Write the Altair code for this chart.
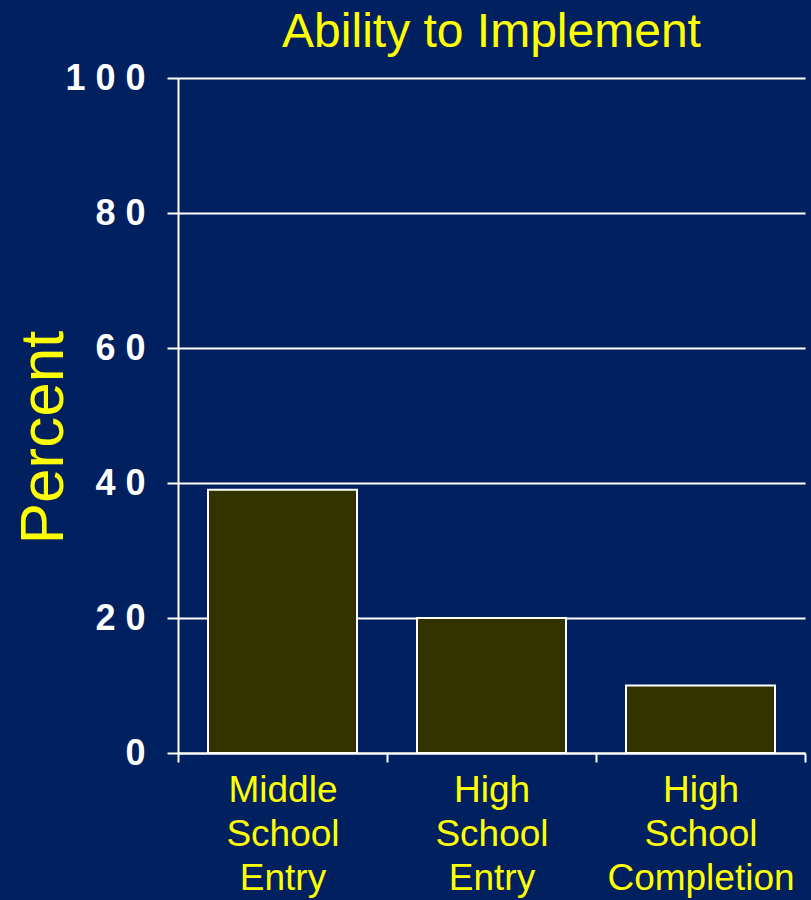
import altair as alt
import pandas as pd

categories = ["Middle School Entry", "High School Entry", "High School Completion"]
percent = [39, 20, 10]

df = pd.DataFrame({"stage": categories, "percent": percent})

BG = "#002060"
YELLOW = "#FFFF00"
BAR = "#333300"

chart = (
    alt.Chart(df)
    .mark_bar(color=BAR, stroke="white", strokeWidth=2, width={"band": 0.713})
    .encode(
        x=alt.X(
            "stage:N",
            sort=None,
            scale=alt.Scale(paddingInner=0, paddingOuter=0),
            axis=alt.Axis(
                title=None,
                labelAngle=0,
                labelExpr="split(datum.label, ' ')",
                labelFont="Liberation Sans",
                labelFontSize=37,
                labelColor=YELLOW,
                labelLineHeight=44,
                labelPadding=10,
                labelBaseline="top",
                labelLimit=0,
                tickBand="extent",
                tickColor="white",
                tickSize=9,
                tickWidth=2,
                domainColor="white",
                domainWidth=2,
                grid=False,
            ),
        ),
        y=alt.Y(
            "percent:Q",
            scale=alt.Scale(domain=[0, 100], nice=False),
            axis=alt.Axis(
                title="Percent",
                values=[0, 20, 40, 60, 80, 100],
                labelExpr="join(split(datum.label, ''), ' ')",
                labelFont="Liberation Sans",
                labelFontWeight="bold",
                labelFontSize=36,
                labelColor="white",
                labelPadding=22,
                tickColor="white",
                tickSize=11,
                tickWidth=2,
                domainColor="white",
                domainWidth=2,
                grid=True,
                gridColor="white",
                gridWidth=2,
                gridOpacity=1,
                titleFont="Liberation Sans",
                titleFontSize=62,
                titleFontWeight="normal",
                titleColor=YELLOW,
                titleAngle=270,
                titleAlign="center",
                titleBaseline="alphabetic",
                titleX=-116,
                titleY=359,
            ),
        ),
    )
    .properties(
        width=627,
        height=675,
        padding={"left": 178, "top": 78, "right": 6, "bottom": 147},
        autosize="none",
        background=BG,
        title=alt.TitleParams(
            "Ability to Implement",
            color=YELLOW,
            font="Liberation Sans",
            fontSize=48,
            fontWeight="normal",
            baseline="alphabetic",
            offset=17,
            dy=52,
            anchor="middle",
        ),
    )
    .configure_view(stroke=None)
)

chart.save("out.html", embed_options={"renderer": "svg", "actions": False})
